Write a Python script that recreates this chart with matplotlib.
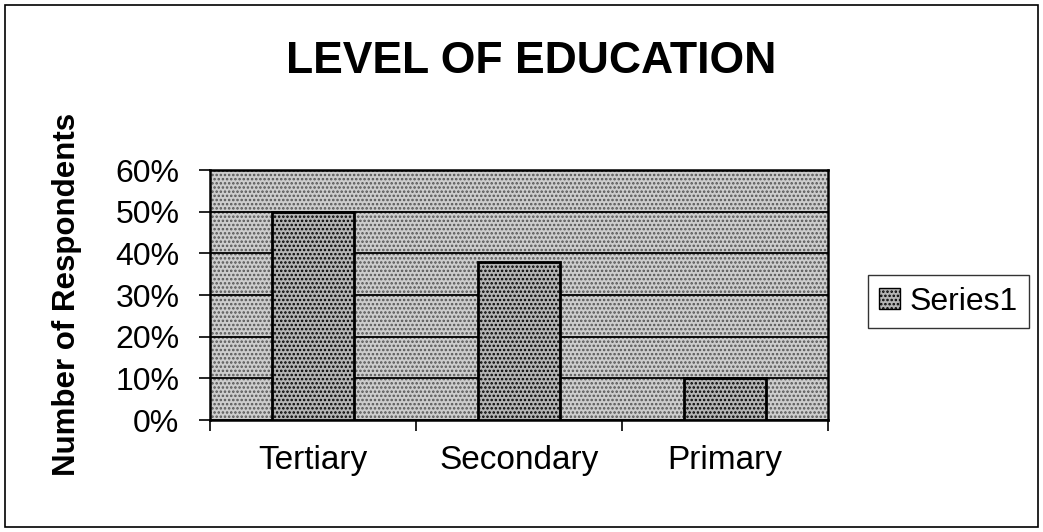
import numpy as np
import matplotlib
matplotlib.use("Agg")
import matplotlib.pyplot as plt
from matplotlib.patches import Rectangle, Patch

categories = ["Tertiary", "Secondary", "Primary"]
values = [50, 38, 10]
yticks = [0, 10, 20, 30, 40, 50, 60]

plt.rcParams["font.family"] = ["Liberation Sans", "DejaVu Sans"]
plt.rcParams["hatch.linewidth"] = 1.2

fig = plt.figure(figsize=(10.43, 5.32), dpi=100)
fig.patches.append(Rectangle((0.005, 0.01), 0.99, 0.98, transform=fig.transFigure,
                             fill=False, edgecolor="black", lw=1.2))

ax = fig.add_axes([0.2013, 0.2105, 0.5925, 0.4695])
ax.set_facecolor("#cdcdcd")
ax.add_patch(Rectangle((0, 0), 1, 1, transform=ax.transAxes, facecolor="none",
                       edgecolor="#555555", hatch="....", lw=0, zorder=0))
x = np.arange(len(categories))
ax.bar(x, values, width=0.4, facecolor="#b4b4b4", edgecolor="black", lw=2,
       hatch="....", zorder=3)
ax.set_xlim(-0.5, 2.5)
ax.set_ylim(0, 60)
ax.set_yticks(yticks)
ax.set_yticklabels([f"{v}%" for v in yticks], fontsize=23)
ax.yaxis.grid(True, color="black", lw=1.3, zorder=1)
ax.set_axisbelow(True)
ax.set_xticks(x)
ax.set_xticklabels(categories, fontsize=24)
ax.tick_params(axis="x", length=0, pad=18)
ax.set_xticks([-0.5, 0.5, 1.5, 2.5], minor=True)
ax.tick_params(axis="x", which="minor", length=8, width=1.2)
ax.tick_params(axis="y", length=8, width=1.2, pad=14)
for s in ax.spines.values():
    s.set_linewidth(1.8)

fig.text(0.509, 0.885, "LEVEL OF EDUCATION", ha="center", va="center",
         fontsize=32, fontweight="bold")
fig.text(0.064, 0.447, "Number of Respondents", ha="center", va="center",
         rotation=90, fontsize=22.5, fontweight="bold")

leg = fig.legend(handles=[Patch(facecolor="#b4b4b4", edgecolor="black", hatch="....",
                                label="Series1")],
                 loc="center", bbox_to_anchor=(0.909, 0.433), fontsize=23,
                 frameon=True, fancybox=False, edgecolor="black", handlelength=0.65,
                 handleheight=0.65, handletextpad=0.3, borderpad=0.35,
                 borderaxespad=0)
leg.get_frame().set_linewidth(1.0)

fig.savefig("out.png", dpi=100)
